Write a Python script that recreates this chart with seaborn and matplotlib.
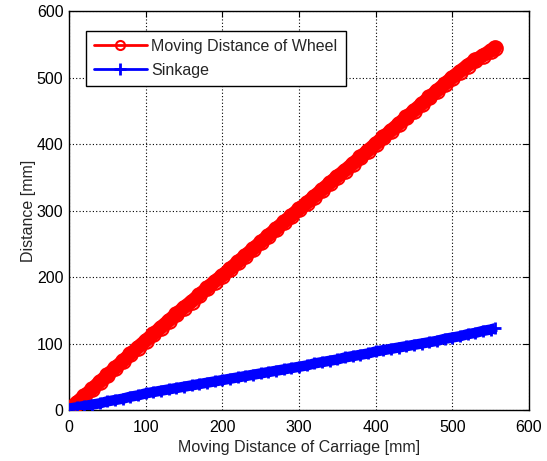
import matplotlib
matplotlib.use("Agg")
import matplotlib.pyplot as plt
from matplotlib.lines import Line2D
import pandas as pd
import seaborn as sns

# Carriage travel [mm] at which both quantities were logged
carriage = [0, 10, 20, 30, 40, 50, 60, 70, 80, 90,
            100, 110, 120, 130, 140, 150, 160, 170, 180, 190,
            200, 210, 220, 230, 240, 250, 260, 270, 280, 290,
            300, 310, 320, 330, 340, 350, 360, 370, 380, 390,
            400, 410, 420, 430, 440, 450, 460, 470, 480, 490,
            500, 510, 520, 530, 540, 550, 556]

# Distance travelled by the wheel [mm]
wheel = [1, 11, 21, 31, 42, 52, 63, 73, 84, 94,
         104, 114, 124, 134, 144, 154, 163, 173, 183, 193,
         202, 212, 222, 232, 242, 252, 262, 272, 282, 292,
         302, 311, 321, 331, 341, 351, 360, 370, 380, 390,
         400, 410, 420, 430, 440, 450, 460, 470, 480, 490,
         500, 509, 518, 526, 533, 540, 545]

# Wheel sinkage [mm]
sinkage = [2, 4, 6, 8, 10, 13, 15, 17, 20, 22,
           25, 27, 29, 31, 33, 35, 37, 39, 41, 43,
           45, 47, 49, 51, 53, 55, 57, 59, 61, 63,
           65, 67, 70, 72, 74, 76, 79, 81, 83, 85,
           88, 90, 92, 94, 96, 98, 100, 102, 104, 107,
           109, 111, 114, 116, 119, 121, 123]

labels = ["Moving Distance of Wheel", "Sinkage"]
ticks = [0, 100, 200, 300, 400, 500, 600]

df = pd.DataFrame({"carriage": carriage, "wheel": wheel, "sinkage": sinkage})

sns.set_style("white")
plt.rcParams["font.family"] = ["Liberation Sans", "DejaVu Sans"]
plt.rcParams["font.size"] = 11.5

fig = plt.figure(figsize=(5.47, 4.61), dpi=100)
ax = fig.add_axes([0.1261, 0.1106, 0.841, 0.8655])

red = (1, 0, 0)
blue = (0, 0, 1)

sns.lineplot(data=df, x="carriage", y="wheel", ax=ax, color=red,
             linewidth=10.0, marker="o", markersize=10.5,
             markerfacecolor="none", markeredgecolor=red,
             markeredgewidth=1.5, solid_capstyle="round", zorder=3)
sns.lineplot(data=df, x="carriage", y="sinkage", ax=ax, color=blue,
             linewidth=7.5, marker="+", markersize=9,
             markeredgecolor=blue, markeredgewidth=2.0,
             solid_capstyle="butt", zorder=3)

ax.set_xlim(0, 600)
ax.set_ylim(0, 600)
ax.set_xticks(ticks)
ax.set_yticks(ticks)
ax.set_xlabel("Moving Distance of Carriage [mm]", fontsize=11.5, labelpad=4)
ax.set_ylabel("Distance [mm]", fontsize=11.5, labelpad=0.5)

ax.grid(True, color="black", linestyle=(0, (1, 2)), linewidth=0.8)
ax.set_axisbelow(True)
for side in ax.spines.values():
    side.set_color("black")
    side.set_linewidth(1.0)
    side.set_visible(True)
ax.tick_params(direction="in", length=4, width=0.8, colors="black",
               top=True, right=True, labelsize=11.5, pad=4)
ax.tick_params(axis="x", pad=7)

handles = [
    Line2D([], [], color=red, linewidth=2, marker="o", markersize=6.5,
           markerfacecolor="none", markeredgewidth=1.5),
    Line2D([], [], color=blue, linewidth=2, marker="+", markersize=8.5,
           markeredgewidth=2),
]
leg = ax.legend(handles, labels, loc="upper left",
                bbox_to_anchor=(0.037, 0.95), borderaxespad=0,
                fontsize=11.5, handlelength=3.3, handletextpad=0.3,
                borderpad=0.5, labelspacing=0.55,
                frameon=True, fancybox=False, framealpha=1,
                edgecolor="black")
leg.get_frame().set_linewidth(1.0)

fig.savefig("out.png", dpi=100)
